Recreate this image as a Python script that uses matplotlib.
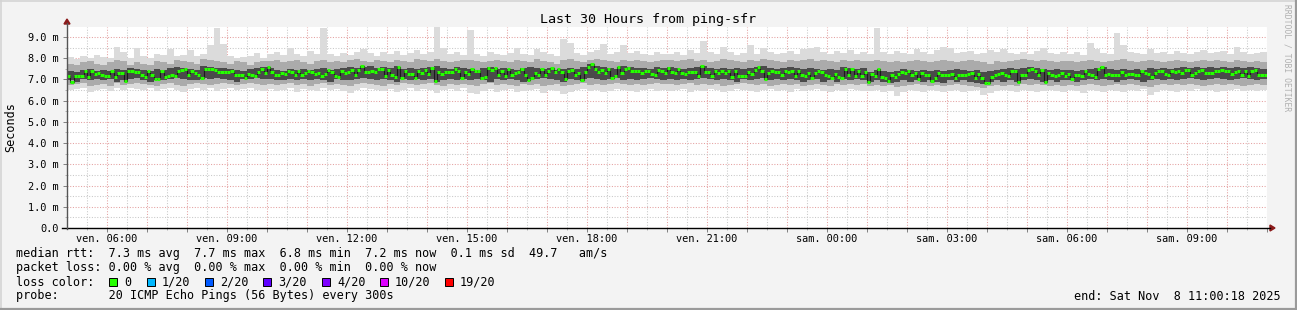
import matplotlib
matplotlib.use("Agg")
import matplotlib.pyplot as plt
import numpy as np
from matplotlib.patches import Rectangle, Polygon
from matplotlib.lines import Line2D
from matplotlib.ticker import FixedLocator, FuncFormatter

# ---------------- data ----------------
title = "Last 30 Hours from ping-sfr"
y_label = "Seconds"
span_hours = 30
step_seconds = 300
start_offset_h = 0.0  # plot starts Fri 05:00:18

# hour labels (hours after start where the label is placed, label text)
tick_hours = [0.995, 3.995, 6.995, 9.995, 12.995, 15.995, 18.995, 21.995, 24.995, 27.995]
tick_labels = ["ven. 06:00", "ven. 09:00", "ven. 12:00", "ven. 15:00", "ven. 18:00",
               "ven. 21:00", "sam. 00:00", "sam. 03:00", "sam. 06:00", "sam. 09:00"]
y_ticks = [0, 1, 2, 3, 4, 5, 6, 7, 8, 9]

# median rtt per 300 s step (ms)
median_ms = [
    7.17, 6.90, 7.17, 7.17, 7.17, 7.40, 7.10, 7.38, 7.25, 7.30, 7.20, 7.15, 7.15, 7.40, 7.10, 7.28, 7.28, 6.94, 7.40, 7.40,
    7.36, 7.33, 7.22, 7.10, 7.40, 7.19, 7.03, 7.03, 7.38, 7.10, 7.17, 7.22, 7.15, 7.38, 7.44, 7.50, 7.19, 7.38, 7.28, 7.19,
    7.06, 7.49, 7.49, 7.49, 7.46, 7.36, 7.36, 7.33, 7.33, 7.38, 7.22, 7.22, 7.22, 7.06, 7.27, 7.22, 7.15, 7.36, 7.49, 7.30,
    7.57, 7.33, 7.19, 7.19, 7.30, 7.25, 7.40, 7.33, 7.19, 7.40, 7.19, 7.30, 7.40, 7.33, 7.25, 7.30, 7.15, 7.25, 7.46, 7.33,
    7.15, 7.10, 7.38, 7.30, 7.33, 7.46, 7.19, 7.46, 7.63, 7.33, 7.33, 7.40, 7.33, 7.50, 7.50, 7.15, 7.44, 7.19, 7.10, 7.57,
    7.09, 7.40, 7.26, 7.26, 7.09, 7.40, 7.30, 7.46, 7.26, 7.53, 6.94, 7.33, 7.25, 7.33, 7.33, 7.33, 7.50, 7.42, 7.09, 7.33,
    7.25, 7.50, 7.38, 7.38, 7.06, 7.13, 7.53, 7.46, 7.53, 7.22, 7.38, 7.15, 7.49, 7.22, 7.30, 7.36, 7.49, 7.22, 6.97, 7.09,
    7.30, 7.19, 7.49, 7.19, 7.40, 7.53, 7.34, 7.50, 7.33, 7.03, 7.38, 7.46, 7.22, 7.30, 6.96, 7.36, 7.58, 7.74, 7.49, 7.33,
    7.46, 7.30, 7.49, 7.09, 7.15, 7.57, 7.30, 7.49, 7.53, 7.40, 7.40, 7.38, 7.30, 7.42, 7.42, 7.27, 7.19, 7.46, 7.40, 7.30,
    7.53, 7.36, 7.30, 7.49, 7.30, 7.25, 7.36, 7.33, 7.33, 7.15, 7.61, 7.36, 7.36, 7.15, 7.40, 7.30, 7.40, 7.30, 7.40, 7.10,
    7.40, 7.17, 7.17, 7.17, 7.33, 7.25, 7.46, 7.57, 7.40, 7.03, 7.30, 7.40, 7.36, 7.36, 7.22, 7.40, 7.36, 7.40, 7.17, 7.40,
    7.22, 7.15, 7.30, 7.06, 7.30, 7.42, 7.33, 7.22, 7.16, 7.09, 7.25, 7.10, 7.09, 7.49, 7.22, 7.49, 7.15, 7.40, 7.15, 7.33,
    6.90, 7.25, 7.15, 7.49, 7.10, 7.06, 6.94, 7.22, 7.10, 7.27, 7.33, 7.30, 7.40, 7.19, 7.30, 7.02, 7.30, 7.20, 7.20, 6.94,
    7.06, 7.30, 7.20, 7.20, 7.20, 7.25, 7.06, 7.22, 7.20, 7.22, 7.25, 7.30, 7.06, 7.25, 7.06, 6.83, 6.83, 7.12, 7.19, 7.25,
    7.30, 7.22, 7.15, 7.38, 7.40, 6.90, 7.19, 7.22, 7.46, 7.49, 7.40, 7.22, 7.46, 6.90, 7.30, 7.22, 7.15, 7.22, 7.30, 7.15,
    7.25, 7.03, 7.22, 7.22, 7.15, 7.42, 7.25, 7.19, 7.10, 7.50, 7.57, 7.22, 7.25, 7.19, 7.22, 7.22, 7.33, 7.19, 7.25, 7.25,
    7.22, 7.19, 7.38, 7.30, 7.27, 7.10, 7.30, 7.40, 7.38, 7.25, 7.22, 7.40, 7.33, 7.38, 7.30, 7.46, 7.46, 7.19, 7.30, 7.38,
    7.46, 7.28, 7.28, 7.28, 7.38, 7.40, 7.46, 7.38, 7.40, 7.25, 7.33, 7.38, 7.19, 7.40, 7.15, 7.40, 7.46, 7.22, 7.22, 7.22,
]

# smoke envelopes per 600 s (ms): outermost pings, middle pings, inner pings
smoke_outer_hi = [
    8.05, 7.95, 8.10, 8.00, 8.15, 8.05, 8.00, 8.55, 8.30, 8.00, 8.50, 8.10, 8.00, 8.20, 8.15, 8.45, 8.10, 8.15, 8.40, 8.10,
    8.20, 8.60, 9.42, 8.65, 8.10, 8.00, 8.05, 8.10, 8.25, 8.00,
    8.20, 8.30, 8.15, 8.50, 8.20, 8.10, 8.35, 8.20, 9.42, 8.20, 8.10, 8.25, 8.15, 8.30, 8.45, 8.25, 8.10, 8.30, 8.20, 8.35,
    8.15, 8.25, 8.40, 8.20, 8.30, 9.45, 8.50, 8.20, 8.30, 8.15,
    9.35, 8.20, 8.10, 8.30, 8.20, 8.15, 8.25, 8.50, 8.20, 8.15, 8.45, 8.30, 8.20, 8.10, 8.90, 8.70, 8.25, 8.15, 8.30, 8.40,
    8.65, 8.20, 8.30, 8.60, 8.25, 8.35, 8.20, 8.15, 8.30, 8.20,
    8.20, 8.30, 8.15, 8.40, 8.25, 8.80, 8.30, 8.20, 8.55, 8.30, 8.15, 8.25, 8.60, 8.20, 8.50, 8.30, 8.20, 8.25, 8.35, 8.20,
    8.45, 8.50, 8.55, 8.30, 8.20, 8.35, 8.25, 8.40, 8.20, 8.30,
    8.20, 9.42, 8.30, 8.20, 8.35, 8.25, 8.20, 8.45, 8.30, 8.20, 8.40, 8.55, 8.50, 8.25, 8.30, 8.35, 8.20, 8.25, 8.40, 8.30,
    8.45, 8.25, 8.20, 8.30, 8.20, 8.35, 8.50, 8.25, 8.20, 8.30,
    8.20, 8.30, 8.15, 8.70, 8.45, 8.25, 8.20, 9.20, 8.60, 8.30, 8.25, 8.20, 8.45, 8.25, 8.30, 8.20, 8.35, 8.25, 8.20, 8.30,
    8.40, 8.25, 8.30, 8.35, 8.20, 8.55, 8.30, 8.20, 8.25, 8.30,
]
smoke_outer_lo = [
    6.50, 6.55, 6.60, 6.40, 6.50, 6.55, 6.45, 6.60, 6.50, 6.60, 6.55, 6.50, 6.60, 6.45, 6.55, 6.60, 6.50, 6.40, 6.55, 6.60,
    6.50, 6.60, 6.45, 6.55, 6.60, 6.50, 6.55, 6.60, 6.50, 6.45,
    6.55, 6.45, 6.50, 6.60, 6.40, 6.55, 6.50, 6.45, 6.60, 6.50, 6.55, 6.45, 6.35, 6.50, 6.60, 6.55, 6.50, 6.45, 6.55, 6.40,
    6.50, 6.60, 6.45, 6.55, 6.50, 6.35, 6.50, 6.55, 6.45, 6.60,
    6.35, 6.30, 6.45, 6.55, 6.40, 6.50, 6.55, 6.40, 6.45, 6.50, 6.55, 6.35, 6.50, 6.45, 6.30, 6.40, 6.50, 6.55, 6.45, 6.50,
    6.40, 6.45, 6.55, 6.50, 6.45, 6.40, 6.50, 6.55, 6.45, 6.50,
    6.45, 6.50, 6.55, 6.40, 6.50, 6.45, 6.55, 6.50, 6.40, 6.45, 6.55, 6.50, 6.45, 6.40, 6.50, 6.55, 6.45, 6.50, 6.40, 6.55,
    6.45, 6.50, 6.55, 6.45, 6.40, 6.50, 6.45, 6.55, 6.50, 6.45,
    6.45, 6.50, 6.40, 6.45, 6.20, 6.40, 6.50, 6.45, 6.40, 6.50, 6.45, 6.40, 6.45, 6.50, 6.40, 6.45, 6.50, 6.25, 6.35, 6.45,
    6.50, 6.45, 6.40, 6.50, 6.45, 6.40, 6.45, 6.50, 6.45, 6.40,
    6.50, 6.45, 6.35, 6.50, 6.45, 6.40, 6.50, 6.45, 6.40, 6.50, 6.45, 6.55, 6.25, 6.40, 6.50, 6.45, 6.40, 6.50, 6.45, 6.55,
    6.45, 6.50, 6.40, 6.45, 6.50, 6.55, 6.45, 6.50, 6.45, 6.50,
]
smoke_mid_hi = [
    7.75, 7.70, 7.80, 7.85, 7.75, 7.70, 7.80, 7.90, 7.85, 7.70, 7.80, 7.75, 7.70, 7.85, 7.80, 7.75, 7.90, 7.85, 7.80, 7.75,
    7.95, 7.90, 7.85, 7.80, 7.75, 7.85, 7.80, 7.70, 7.80, 7.85,
    7.85, 7.90, 7.80, 7.85, 7.90, 7.80, 7.75, 7.85, 7.90, 7.80, 7.85, 7.80, 7.90, 7.95, 7.85, 7.80, 7.90, 7.85, 7.80, 7.90,
    7.85, 7.80, 7.95, 7.90, 7.85, 7.95, 7.85, 7.80, 7.85, 7.90,
    7.90, 7.85, 7.80, 7.85, 7.90, 7.85, 7.80, 7.90, 7.85, 7.80, 7.95, 7.85, 7.80, 7.75, 7.90, 7.95, 7.85, 7.80, 7.90, 7.95,
    7.90, 7.85, 7.80, 7.90, 7.85, 7.90, 7.85, 7.80, 7.85, 7.90,
    7.90, 7.85, 7.90, 7.95, 7.85, 7.90, 7.80, 7.85, 7.95, 7.90, 7.85, 7.80, 7.90, 7.85, 7.95, 7.90, 7.85, 7.80, 7.90, 7.85,
    7.90, 7.95, 7.85, 7.90, 7.85, 7.80, 7.90, 7.85, 7.90, 7.85,
    7.85, 7.90, 7.85, 7.80, 7.85, 7.80, 7.85, 7.90, 7.85, 7.80, 7.85, 7.90, 7.85, 7.80, 7.85, 7.90, 7.85, 7.80, 7.75, 7.85,
    7.80, 7.85, 7.90, 7.95, 7.90, 7.85, 7.90, 7.85, 7.80, 7.85,
    7.85, 7.80, 7.85, 7.90, 7.85, 7.80, 7.85, 7.90, 7.95, 7.85, 7.80, 7.85, 7.90, 7.85, 7.80, 7.85, 7.90, 7.85, 7.80, 7.85,
    7.90, 7.85, 7.90, 7.85, 7.80, 7.90, 7.85, 7.80, 7.85, 7.80,
]
smoke_mid_lo = [
    6.75, 6.80, 6.85, 6.70, 6.75, 6.80, 6.70, 6.85, 6.75, 6.80, 6.85, 6.80, 6.75, 6.70, 6.80, 6.85, 6.75, 6.70, 6.80, 6.85,
    6.80, 6.75, 6.80, 6.85, 6.80, 6.75, 6.80, 6.85, 6.80, 6.75,
    6.80, 6.75, 6.80, 6.85, 6.75, 6.80, 6.70, 6.80, 6.85, 6.75, 6.80, 6.75, 6.70, 6.80, 6.85, 6.80, 6.75, 6.70, 6.80, 6.75,
    6.85, 6.80, 6.75, 6.80, 6.85, 6.75, 6.70, 6.80, 6.75, 6.80,
    6.75, 6.70, 6.80, 6.85, 6.75, 6.80, 6.75, 6.70, 6.80, 6.75, 6.80, 6.70, 6.75, 6.80, 6.70, 6.75, 6.80, 6.85, 6.75, 6.80,
    6.75, 6.80, 6.85, 6.80, 6.75, 6.80, 6.75, 6.80, 6.85, 6.80,
    6.80, 6.75, 6.80, 6.85, 6.75, 6.80, 6.75, 6.80, 6.70, 6.75, 6.80, 6.85, 6.80, 6.75, 6.80, 6.70, 6.75, 6.80, 6.75, 6.80,
    6.70, 6.75, 6.80, 6.75, 6.70, 6.80, 6.75, 6.80, 6.75, 6.80,
    6.70, 6.75, 6.70, 6.75, 6.65, 6.70, 6.75, 6.80, 6.75, 6.70, 6.75, 6.70, 6.75, 6.80, 6.75, 6.70, 6.65, 6.60, 6.70, 6.75,
    6.70, 6.75, 6.70, 6.80, 6.75, 6.80, 6.75, 6.70, 6.75, 6.70,
    6.75, 6.70, 6.75, 6.80, 6.75, 6.70, 6.75, 6.80, 6.75, 6.80, 6.75, 6.70, 6.65, 6.75, 6.80, 6.75, 6.80, 6.75, 6.80, 6.75,
    6.70, 6.75, 6.80, 6.75, 6.80, 6.75, 6.70, 6.75, 6.80, 6.75,
]
smoke_inner_hi = [
    7.40, 7.35, 7.45, 7.50, 7.40, 7.45, 7.40, 7.50, 7.45, 7.55, 7.50, 7.45, 7.40, 7.50, 7.45, 7.55, 7.60, 7.55, 7.50, 7.45,
    7.65, 7.60, 7.55, 7.55, 7.50, 7.45, 7.40, 7.50, 7.55, 7.60,
    7.55, 7.45, 7.40, 7.50, 7.45, 7.50, 7.45, 7.50, 7.55, 7.45, 7.50, 7.55, 7.60, 7.55, 7.60, 7.65, 7.55, 7.60, 7.55, 7.65,
    7.50, 7.55, 7.50, 7.55, 7.60, 7.65, 7.55, 7.50, 7.60, 7.55,
    7.50, 7.45, 7.55, 7.60, 7.50, 7.55, 7.50, 7.45, 7.55, 7.60, 7.55, 7.50, 7.55, 7.45, 7.50, 7.55, 7.50, 7.60, 7.75, 7.65,
    7.60, 7.55, 7.50, 7.65, 7.60, 7.55, 7.55, 7.50, 7.60, 7.55,
    7.60, 7.55, 7.50, 7.55, 7.60, 7.65, 7.55, 7.50, 7.55, 7.50, 7.55, 7.50, 7.55, 7.60, 7.65, 7.55, 7.50, 7.55, 7.60, 7.55,
    7.50, 7.55, 7.50, 7.45, 7.50, 7.45, 7.60, 7.55, 7.50, 7.55,
    7.35, 7.45, 7.40, 7.35, 7.40, 7.50, 7.45, 7.40, 7.45, 7.40, 7.45, 7.40, 7.45, 7.50, 7.45, 7.40, 7.45, 7.35, 7.40, 7.45,
    7.50, 7.55, 7.50, 7.55, 7.60, 7.55, 7.50, 7.45, 7.50, 7.45,
    7.45, 7.40, 7.45, 7.50, 7.55, 7.60, 7.50, 7.45, 7.50, 7.45, 7.50, 7.45, 7.55, 7.50, 7.55, 7.50, 7.55, 7.60, 7.55, 7.60,
    7.55, 7.60, 7.55, 7.60, 7.55, 7.60, 7.55, 7.60, 7.55, 7.50,
]
smoke_inner_lo = [
    6.95, 6.90, 7.00, 6.95, 7.00, 6.95, 7.00, 6.90, 6.95, 7.00, 7.05, 6.95, 6.90, 7.00, 6.95, 7.00, 7.05, 7.00, 6.95, 6.95,
    7.05, 7.00, 7.05, 7.00, 6.95, 6.90, 7.00, 7.00, 7.05, 7.00,
    7.00, 6.95, 6.95, 7.00, 6.95, 7.00, 6.95, 7.00, 6.95, 6.90, 7.00, 6.95, 6.95, 7.00, 7.05, 7.00, 6.95, 7.00, 6.95, 6.90,
    7.00, 6.95, 7.00, 6.95, 7.00, 6.90, 6.95, 7.00, 6.95, 7.00,
    6.95, 7.00, 6.95, 6.90, 7.00, 6.95, 7.00, 6.95, 6.90, 6.95, 7.00, 7.05, 7.00, 6.95, 6.90, 7.00, 6.95, 7.00, 7.05, 7.00,
    6.95, 7.00, 7.05, 6.95, 7.00, 6.95, 7.00, 7.05, 7.00, 6.95,
    7.00, 6.95, 7.00, 6.95, 7.00, 7.05, 7.00, 6.95, 7.00, 6.95, 6.90, 7.00, 6.95, 7.00, 7.05, 6.95, 7.00, 6.95, 7.00, 6.95,
    6.90, 6.95, 7.00, 6.90, 6.95, 6.90, 7.00, 6.95, 7.00, 6.95,
    6.90, 6.95, 6.90, 6.85, 6.90, 6.95, 6.90, 6.95, 6.90, 6.95, 6.90, 6.85, 6.95, 6.90, 6.95, 6.90, 6.85, 6.80, 6.90, 6.95,
    6.90, 6.95, 6.90, 6.95, 7.00, 6.95, 6.90, 6.95, 6.90, 6.95,
    6.95, 6.90, 6.95, 7.00, 6.95, 7.00, 6.95, 6.90, 6.95, 7.00, 6.95, 6.90, 6.95, 7.00, 6.95, 7.00, 6.95, 7.00, 7.05, 7.00,
    6.95, 7.00, 7.05, 7.00, 6.95, 7.00, 7.05, 7.00, 6.95, 7.00,
]

legend_rtt = "median rtt:  7.3 ms avg  7.7 ms max  6.8 ms min  7.2 ms now  0.1 ms sd  49.7   am/s"
legend_loss = "packet loss: 0.00 % avg  0.00 % max  0.00 % min  0.00 % now"
legend_probe = "probe:       20 ICMP Echo Pings (56 Bytes) every 300s"
end_text = "end: Sat Nov  8 11:00:18 2025"
loss_labels = ["0", "1/20", "2/20", "3/20", "4/20", "10/20", "19/20"]
loss_colors = ["#26ff00", "#00b8ff", "#0059ff", "#5e00ff", "#7e00ff", "#dd00ff", "#ff0000"]

# ---------------- figure ----------------
W, H = 1297, 310
def fx(px):
    return px / W
def fy(py):
    return 1 - py / H

mono = "DejaVu Sans Mono"
plt.rcParams["font.family"] = [mono, "DejaVu Sans"]

fig = plt.figure(figsize=(W / 100, H / 100), dpi=100)
fig.patch.set_facecolor("#f3f3f3")

ax = fig.add_axes([fx(67), fy(228), fx(1267) - fx(67), fy(27) - fy(228)])
ax.set_facecolor("white")
ax.set_xlim(0, span_hours)
ax.set_ylim(0, 9.47)

step_h = step_seconds / 3600.0
med = np.array(median_ms)
edges = start_offset_h + np.arange(len(med) + 1) * step_h
n_s = len(smoke_outer_hi)
sedges = start_offset_h + np.arange(n_s + 1) * (span_hours / n_s)

ax.stairs(smoke_outer_hi, sedges, baseline=smoke_outer_lo, fill=True, color="#dbdbdb", zorder=2)
ax.stairs(smoke_mid_hi, sedges, baseline=smoke_mid_lo, fill=True, color="#ababab", zorder=3)
ax.stairs(smoke_inner_hi, sedges, baseline=smoke_inner_lo, fill=True, color="#4a4a4a", zorder=4)

# median: dark connecting stair line + green loss-colored segments
ax.stairs(med, edges, baseline=None, color="#1a1a1a", lw=0.8, zorder=5)
ax.hlines(med, edges[:-1], edges[1:], colors=loss_colors[0], lw=2.2, zorder=6)

# grid
major_x = [h for h in np.arange(0.995, span_hours, 1.0)]
minor_x = [h for h in np.arange(0.495, span_hours, 1.0)]
ax.xaxis.set_major_locator(FixedLocator(major_x))
ax.xaxis.set_minor_locator(FixedLocator(minor_x))
lab = dict(zip([round(t, 3) for t in tick_hours], tick_labels))
ax.xaxis.set_major_formatter(FuncFormatter(lambda v, p: lab.get(round(v, 3), "")))
ax.yaxis.set_major_locator(FixedLocator(y_ticks))
ax.yaxis.set_minor_locator(FixedLocator([v + 0.5 for v in y_ticks]))
ax.yaxis.set_major_formatter(FuncFormatter(lambda v, p: "0.0" if v == 0 else f"{v:.1f} m"))

ax.grid(which="major", color="#e4a0a0", linestyle=(0, (1, 1.6)), lw=0.75, zorder=1)
ax.grid(which="minor", color="#c8c8c8", linestyle=(0, (1, 1.6)), lw=0.75, zorder=1)
ax.set_axisbelow(True)

ax.tick_params(axis="both", which="major", labelsize=7.4, length=3, width=0.7, color="#808080")
ax.tick_params(axis="both", which="minor", length=1.5, width=0.7, color="#b0b0b0")
ax.tick_params(axis="x", which="major", pad=1.5)
ax.tick_params(axis="y", which="major", pad=3)
for lbl in ax.get_xticklabels() + ax.get_yticklabels():
    lbl.set_family(mono)

for s in ["top", "right", "left", "bottom"]:
    ax.spines[s].set_visible(False)

# axis lines with arrows (figure coords)
fig.add_artist(Line2D([fx(62), fx(1270)], [fy(228), fy(228)], color="black", lw=1.0))
fig.add_artist(Line2D([fx(67), fx(67)], [fy(228.5), fy(23)], color="#555555", lw=1.0))
fig.add_artist(Polygon([[fx(64), fy(24)], [fx(70), fy(24)], [fx(67), fy(19)]],
                       closed=True, color="#8b1a1a", transform=fig.transFigure))
fig.add_artist(Polygon([[fx(1270), fy(225)], [fx(1270), fy(231)], [fx(1275), fy(228)]],
                       closed=True, color="#8b1a1a", transform=fig.transFigure))

# titles
fig.text(fx(648), fy(19), title, ha="center", va="center", fontsize=9.6, family=mono)
fig.text(fx(11), fy(127), y_label, ha="center", va="center", rotation=90, fontsize=8.5, family=mono)
fig.text(fx(1287), fy(4), "RRDTOOL / TOBI OETIKER", ha="center", va="top", rotation=270,
         fontsize=5.8, color="#b0b0b0", family=mono)

# legend
fs = 8.5
fig.text(fx(16), fy(254), legend_rtt, ha="left", va="center", fontsize=fs, family=mono)
fig.text(fx(16), fy(268), legend_loss, ha="left", va="center", fontsize=fs, family=mono)
fig.text(fx(16), fy(282), "loss color:", ha="left", va="center", fontsize=fs, family=mono)
fig.text(fx(16), fy(296), legend_probe, ha="left", va="center", fontsize=fs, family=mono)
fig.text(fx(1281), fy(296), end_text, ha="right", va="center", fontsize=fs, family=mono)

box_x = [109, 147, 205, 263, 322, 380, 445]
for bx, c, t in zip(box_x, loss_colors, loss_labels):
    fig.add_artist(Rectangle((fx(bx), fy(286)), fx(8), 8 / H, facecolor=c, edgecolor="black",
                             lw=0.7, transform=fig.transFigure))
    fig.text(fx(bx + 15), fy(282), t, ha="left", va="center", fontsize=fs, family=mono)

# outer frame
fig.add_artist(Line2D([0, 1], [fy(0.5), fy(0.5)], color="#d4d4d4", lw=1.2))
fig.add_artist(Line2D([fx(0.5), fx(0.5)], [0, 1], color="#d4d4d4", lw=1.2))
fig.add_artist(Line2D([0, 1], [fy(309), fy(309)], color="#9a9a9a", lw=1.6))
fig.add_artist(Line2D([fx(1296), fx(1296)], [0, 1], color="#9a9a9a", lw=1.6))

fig.savefig("out.png", dpi=100, facecolor=fig.get_facecolor())
